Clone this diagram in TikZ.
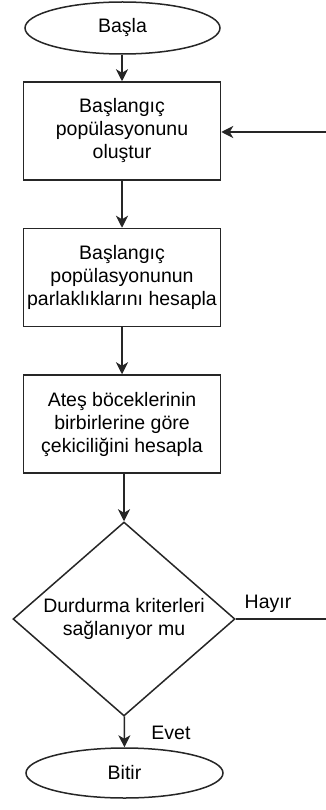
\documentclass[tikz,border=0pt]{standalone}
\usepackage{fontspec}
\setmainfont{Liberation Sans}
\usetikzlibrary{shapes.geometric,arrows.meta}
\begin{document}
\begin{tikzpicture}[x=1pt,y=-1pt,
  every node/.style={font=\fontsize{19.5}{23}\selectfont, text=black, inner sep=0pt, align=center},
  terminal/.style={ellipse, draw=black!85, line width=1.5pt, fill=white, minimum width=195pt, minimum height=52pt},
  process/.style={rectangle, draw=black!85, line width=1.5pt, fill=white, minimum width=197pt, minimum height=98pt},
  decision/.style={diamond, draw=black!85, line width=1.5pt, fill=white, shape aspect=1.144, minimum width=222pt, minimum height=194pt},
  flow/.style={draw=black!85, line width=1.5pt, -{Stealth[length=12pt,width=12pt,inset=3.5pt]}},
  plain/.style={draw=black!85, line width=1.5pt}
]
\useasboundingbox (0,0) rectangle (326,810);

% flowchart nodes
\node[terminal] (start) at (122.5,28) {Başla};
\node[process]  (init)  at (122,131) {Başlangıç\\popülasyonunu\\oluştur};
\node[process]  (bright) at (122,277.5) {Başlangıç\\popülasyonunun\\parlaklıklarını hesapla};
\node[process]  (attract) at (122,424) {Ateş böceklerinin\\birbirlerine göre\\çekiciliğini hesapla};
\node[decision] (stop) at (124,619) {Durdurma kriterleri\\sağlanıyor mu};
\node[terminal, minimum width=197pt, minimum height=50pt] (finish) at (124.5,773) {Bitir};

% free ends of the loop-back connector at the right edge
\coordinate (loopOut) at (326,619);
\coordinate (loopIn)  at (326,132);

% connectors
\draw[flow] (start.south -| init.north) -- (init.north);
\draw[flow] (init) -- (bright);
\draw[flow] (bright) -- (attract);
\draw[flow] (attract.south -| stop.north) -- (stop.north);
\draw[flow] (stop) -- (finish);
\draw[plain] (stop.east) -- (loopOut);
\draw[flow] (loopIn) -- (init.east |- loopIn);

% branch labels
\node (no)  at (268,604) {Hayır};
\node (yes) at (171,733) {Evet};
\end{tikzpicture}
\end{document}
